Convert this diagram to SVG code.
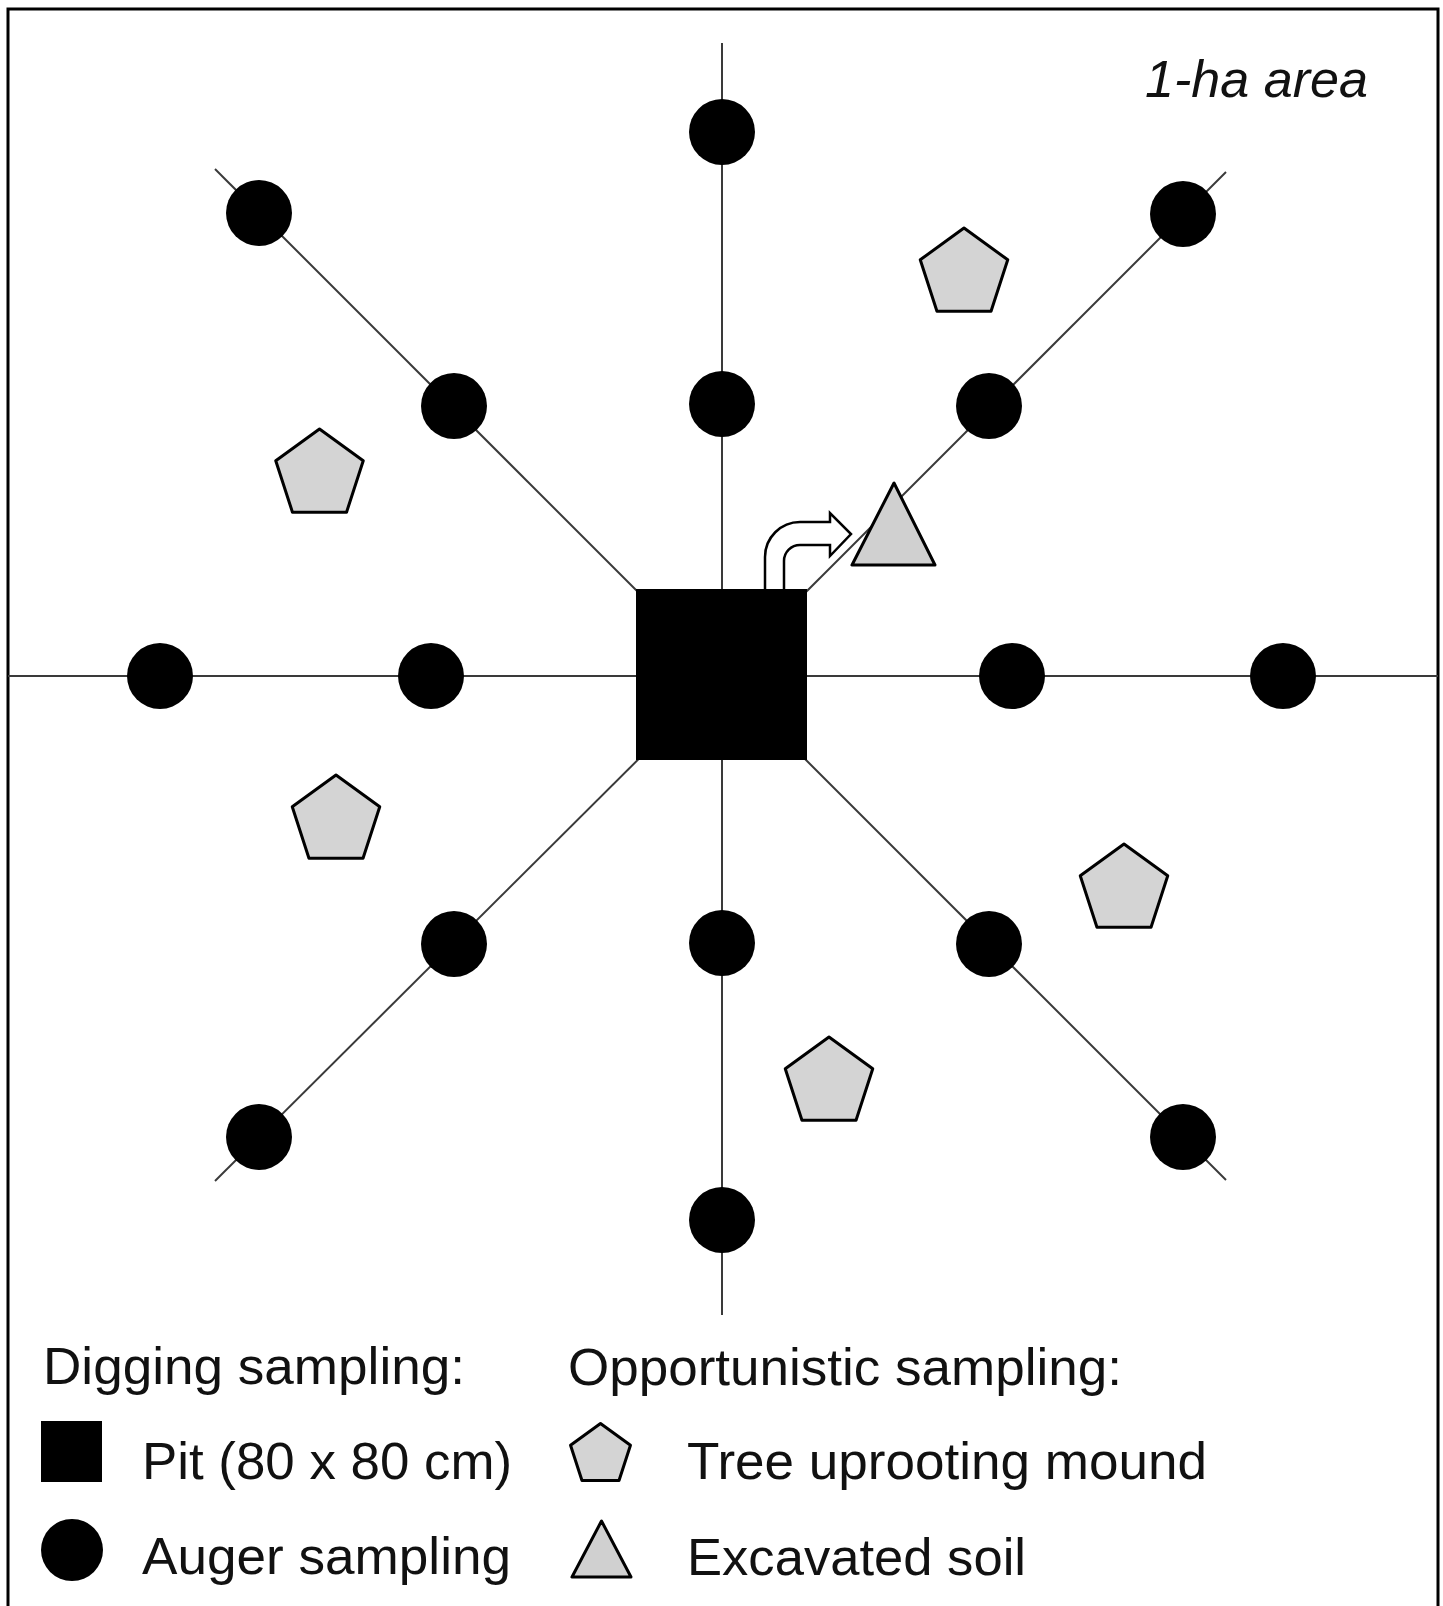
<svg xmlns="http://www.w3.org/2000/svg" width="1443" height="1606" viewBox="0 0 1443 1606">
<style>
.ln{stroke:#3a3a3a;stroke-width:2;fill:none}
.dot{fill:#000}
.pent{fill:#d4d4d4;stroke:#000;stroke-width:3;stroke-linejoin:round}
.tri{fill:#d0d0d0;stroke:#000;stroke-width:3;stroke-linejoin:round}
.txt{font-family:"Liberation Sans",Arial,sans-serif;font-size:52px;fill:#111}
</style>
<defs>
<path id="pg" d="M0,-46 L43.75,-14.21 L27.04,37.21 L-27.04,37.21 L-43.75,-14.21 Z"/>
</defs>
<rect x="0" y="0" width="1443" height="1606" fill="#fff"/>
<rect id="frame" x="8" y="9" width="1430" height="1620" fill="none" stroke="#000" stroke-width="3"/>
<g id="connectors">
<line class="ln" x1="722" y1="43" x2="722" y2="1315"/>
<line class="ln" x1="8" y1="676" x2="1438" y2="676"/>
<line class="ln" x1="215" y1="169" x2="722" y2="676"/>
<line class="ln" x1="1226" y1="172" x2="722" y2="676"/>
<line class="ln" x1="215" y1="1181" x2="722" y2="676"/>
<line class="ln" x1="1226" y1="1180" x2="722" y2="676"/>
</g>
<g id="pit"><rect x="636" y="589" width="171" height="171" fill="#000"/></g>
<g id="arrow"><path d="M765,589 L765,557 A35,35 0 0 1 800,522 L830,522 L830,513 L851,534 L830,556 L830,545 L800,545 A16,16 0 0 0 784,561 L784,589" fill="#fff" stroke="#000" stroke-width="2.5" stroke-linejoin="miter"/></g>
<g id="excavated-soil"><polygon class="tri" points="894,483 852,565 935,565"/></g>
<g id="auger-points">
<circle class="dot" cx="722" cy="132" r="33"/>
<circle class="dot" cx="722" cy="404" r="33"/>
<circle class="dot" cx="722" cy="943" r="33"/>
<circle class="dot" cx="722" cy="1220" r="33"/>
<circle class="dot" cx="160" cy="676" r="33"/>
<circle class="dot" cx="431" cy="676" r="33"/>
<circle class="dot" cx="1012" cy="676" r="33"/>
<circle class="dot" cx="1283" cy="676" r="33"/>
<circle class="dot" cx="259" cy="213" r="33"/>
<circle class="dot" cx="454" cy="406" r="33"/>
<circle class="dot" cx="1183" cy="214" r="33"/>
<circle class="dot" cx="989" cy="406" r="33"/>
<circle class="dot" cx="454" cy="944" r="33"/>
<circle class="dot" cx="259" cy="1137" r="33"/>
<circle class="dot" cx="989" cy="944" r="33"/>
<circle class="dot" cx="1183" cy="1137" r="33"/>
</g>
<g id="mounds">
<use href="#pg" class="pent" transform="translate(964,274)"/>
<use href="#pg" class="pent" transform="translate(319.5,475)"/>
<use href="#pg" class="pent" transform="translate(336,821)"/>
<use href="#pg" class="pent" transform="translate(1124,890)"/>
<use href="#pg" class="pent" transform="translate(829,1083)"/>
</g>
<g id="area-label"><text class="txt" x="1145" y="97" font-style="italic" font-size="48" textLength="223" lengthAdjust="spacingAndGlyphs">1-ha area</text></g>
<g id="legend">
<text class="txt" x="43" y="1384" textLength="422" lengthAdjust="spacingAndGlyphs">Digging sampling:</text>
<text class="txt" x="568" y="1385" textLength="554" lengthAdjust="spacingAndGlyphs">Opportunistic sampling:</text>
<rect x="41" y="1421" width="61" height="61" fill="#000"/>
<text class="txt" x="142" y="1479" textLength="370" lengthAdjust="spacingAndGlyphs">Pit (80 x 80 cm)</text>
<circle class="dot" cx="72" cy="1550" r="31"/>
<text class="txt" x="142" y="1574" textLength="369" lengthAdjust="spacingAndGlyphs">Auger sampling</text>
<use href="#pg" class="pent" transform="translate(600.5,1455) scale(0.685)" style="stroke-width:4.4"/>
<text class="txt" x="687" y="1479" textLength="520" lengthAdjust="spacingAndGlyphs">Tree uprooting mound</text>
<polygon class="tri" points="601.5,1521 572,1577 631,1577"/>
<text class="txt" x="687" y="1575" textLength="339" lengthAdjust="spacingAndGlyphs">Excavated soil</text>
</g>
</svg>
